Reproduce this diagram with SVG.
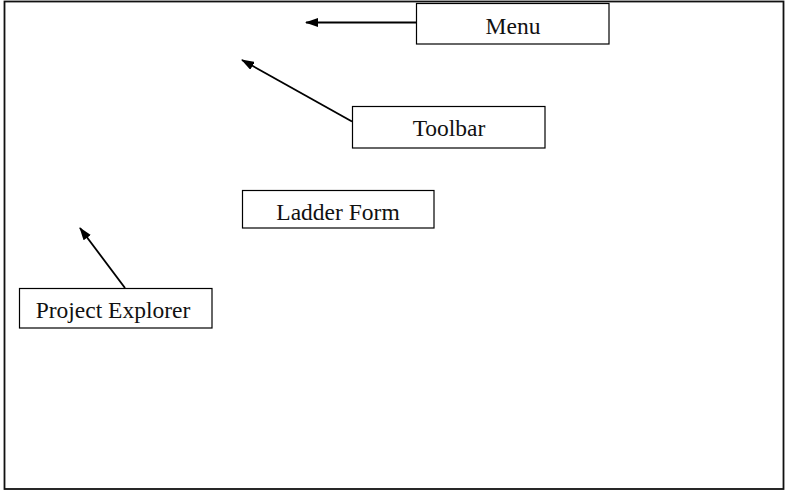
<svg xmlns="http://www.w3.org/2000/svg" width="795" height="492" viewBox="0 0 795 492">
  <style>
    .box { fill: #fff; stroke: #000; stroke-width: 1.2; }
    .label { font-family: "Liberation Serif", "Times New Roman", serif; font-size: 23.5px; fill: #111; text-anchor: middle; }
    .conn { stroke: #000; stroke-width: 1.8; fill: none; marker-end: url(#head); }
  </style>
  <defs>
    <marker id="head" viewBox="0 0 13 9" refX="12" refY="4.5" markerWidth="13" markerHeight="9" markerUnits="userSpaceOnUse" orient="auto">
      <path d="M0,0 L13,4.5 L0,9 z" fill="#000"/>
    </marker>
  </defs>
  <rect x="0" y="0" width="795" height="492" fill="#fff"/>
  <!-- outer window frame -->
  <rect id="frame" x="4.5" y="1.5" width="779" height="487.5" fill="none" stroke="#111" stroke-width="1.8"/>

  <g id="connectors">
    <line class="conn" x1="416" y1="22.5" x2="306" y2="22.5"/>
    <line class="conn" x1="352" y1="121.5" x2="242" y2="60"/>
    <line class="conn" x1="125" y1="288" x2="80" y2="228"/>
  </g>

  <g id="menu">
    <rect class="box" x="416.5" y="3.5" width="192.5" height="40.5"/>
    <text class="label" x="513" y="34">Menu</text>
  </g>
  <g id="toolbar">
    <rect class="box" x="352.5" y="106.5" width="192.5" height="41.5"/>
    <text class="label" x="449" y="136">Toolbar</text>
  </g>
  <g id="ladder-form">
    <rect class="box" x="242.5" y="190.5" width="191.5" height="37.5"/>
    <text class="label" x="338" y="220">Ladder Form</text>
  </g>
  <g id="project-explorer">
    <rect class="box" x="19.5" y="288.5" width="192.5" height="39.5"/>
    <text class="label" x="113" y="318">Project Explorer</text>
  </g>
</svg>
